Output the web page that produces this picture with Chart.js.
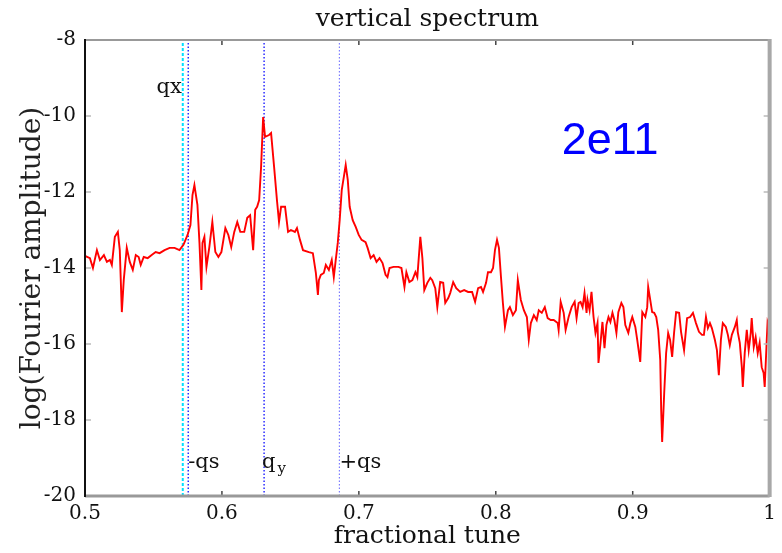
<!DOCTYPE html>
<html>
<head>
<meta charset="utf-8">
<script src="https://cdn.jsdelivr.net/npm/chart.js@4.4.1/dist/chart.umd.min.js"></script>
<style>
  html, body { margin: 0; padding: 0; background: #fff; }
</style>
</head>
<body>
<canvas id="spectrum" width="782" height="553"></canvas>
<script>
// fractional tune (x) and log of the Fourier amplitude (y)
const tune = [
  0.5000, 0.5036, 0.5058, 0.5087, 0.5109, 0.5138, 0.5160, 0.5182, 0.5196, 0.5218,
  0.5240, 0.5254, 0.5269, 0.5283, 0.5305, 0.5327, 0.5349, 0.5371, 0.5392, 0.5407,
  0.5429, 0.5458, 0.5487, 0.5516, 0.5545, 0.5581, 0.5618, 0.5654, 0.5690, 0.5719,
  0.5749, 0.5770, 0.5785, 0.5799, 0.5821, 0.5836, 0.5850,
  0.5858, 0.5872, 0.5887, 0.5908, 0.5930, 0.5952, 0.5974, 0.5996, 0.6025, 0.6047,
  0.6068, 0.6090, 0.6112, 0.6134, 0.6163, 0.6185, 0.6206, 0.6228, 0.6243, 0.6257,
  0.6272, 0.6286, 0.6301, 0.6315, 0.6344, 0.6359, 0.6381, 0.6403, 0.6417, 0.6432,
  0.6461, 0.6483, 0.6504, 0.6533, 0.6548, 0.6570, 0.6592, 0.6635, 0.6664, 0.6686,
  0.6701,
  0.6708, 0.6722, 0.6744, 0.6759, 0.6781, 0.6802, 0.6817, 0.6831, 0.6846, 0.6860,
  0.6875, 0.6890, 0.6904, 0.6919, 0.6933, 0.6955, 0.6977, 0.6999, 0.7020, 0.7049,
  0.7064, 0.7086, 0.7108, 0.7129, 0.7151, 0.7173, 0.7195, 0.7209, 0.7224, 0.7253,
  0.7289, 0.7311, 0.7333, 0.7347, 0.7369, 0.7391, 0.7413, 0.7427, 0.7449, 0.7464,
  0.7478, 0.7500, 0.7522,
  0.7536, 0.7558, 0.7573, 0.7594, 0.7616, 0.7631, 0.7653, 0.7667, 0.7689, 0.7711,
  0.7740, 0.7769, 0.7798, 0.7827, 0.7849, 0.7871, 0.7892, 0.7907, 0.7929, 0.7943,
  0.7965, 0.7980, 0.7994, 0.8009, 0.8023, 0.8038, 0.8052, 0.8067, 0.8089, 0.8103,
  0.8125, 0.8147, 0.8161, 0.8183, 0.8205, 0.8227, 0.8241, 0.8256, 0.8278, 0.8299,
  0.8314, 0.8336, 0.8358,
  0.8379, 0.8401, 0.8423, 0.8452, 0.8459, 0.8474, 0.8496, 0.8510, 0.8532, 0.8554,
  0.8576, 0.8590, 0.8605, 0.8619, 0.8634, 0.8648, 0.8663, 0.8670, 0.8685, 0.8699,
  0.8714, 0.8728, 0.8743, 0.8750, 0.8765, 0.8779, 0.8794, 0.8808, 0.8823, 0.8837,
  0.8852, 0.8866, 0.8881, 0.8895, 0.8917, 0.8932, 0.8946, 0.8968, 0.8983, 0.8997,
  0.9019, 0.9033, 0.9055, 0.9070, 0.9092, 0.9106, 0.9113, 0.9128, 0.9142, 0.9157,
  0.9172, 0.9186,
  0.9201, 0.9208, 0.9215, 0.9230, 0.9244, 0.9259, 0.9273, 0.9288, 0.9302, 0.9317,
  0.9339, 0.9353, 0.9375, 0.9397, 0.9419, 0.9440, 0.9462, 0.9484, 0.9506, 0.9520,
  0.9535, 0.9549, 0.9564, 0.9578, 0.9600, 0.9615, 0.9629, 0.9644, 0.9658, 0.9680,
  0.9695, 0.9709, 0.9724, 0.9746, 0.9760, 0.9767, 0.9782, 0.9797, 0.9804, 0.9818,
  0.9833, 0.9847, 0.9862, 0.9869, 0.9884, 0.9898, 0.9913, 0.9927, 0.9942, 0.9956,
  0.9964, 0.9978, 0.9985, 1.0000,
];
const logAmp = [
  -13.68, -13.74, -14.00, -13.53, -13.79, -13.66, -13.84, -13.79, -13.92, -13.18,
  -13.05, -13.53, -15.16, -14.32, -13.47, -13.84, -14.05, -13.66, -13.71, -13.92,
  -13.71, -13.74, -13.66, -13.58, -13.61, -13.53, -13.47, -13.47, -13.53, -13.39,
  -13.13, -12.87, -12.08, -11.82, -12.34, -13.34, -14.58,
  -13.34, -13.18, -13.97, -13.45, -12.79, -13.58, -13.71, -13.58, -12.95, -13.13,
  -13.45, -13.05, -12.79, -13.05, -13.05, -12.68, -12.61, -13.53, -12.47, -12.39,
  -12.21, -11.34, -10.03, -10.55, -10.50, -10.45, -11.34, -12.26, -12.79, -12.39,
  -12.39, -13.05, -13.00, -13.05, -12.95, -13.26, -13.53, -13.58, -13.61, -14.13,
  -14.71,
  -14.32, -14.18, -14.13, -13.92, -14.05, -13.79, -14.24, -13.79, -13.34, -12.74,
  -11.95, -11.61, -11.29, -11.68, -12.39, -12.74, -12.92, -13.13, -13.26, -13.32,
  -13.47, -13.74, -13.66, -13.84, -13.74, -13.87, -14.18, -14.24, -14.00, -13.97,
  -13.97, -14.00, -14.50, -14.11, -14.37, -14.32, -14.11, -14.24, -13.18, -13.74,
  -14.58, -14.39, -14.26,
  -14.32, -14.53, -15.03, -14.37, -14.39, -14.92, -14.79, -14.66, -14.37, -14.53,
  -14.63, -14.58, -14.63, -14.63, -14.89, -14.53, -14.50, -14.63, -14.39, -14.11,
  -14.11, -14.00, -13.53, -13.26, -13.47, -14.24, -14.92, -15.55, -15.11, -15.03,
  -15.24, -15.11, -14.32, -14.84, -15.11, -15.29, -15.89, -15.45, -15.24, -15.37,
  -15.11, -15.18, -15.03,
  -15.32, -15.37, -15.37, -15.45, -15.63, -14.89, -15.18, -15.63, -15.29, -15.03,
  -14.89, -15.32, -14.92, -14.89, -15.03, -14.66, -15.18, -14.84, -15.11, -14.63,
  -15.29, -15.71, -15.45, -16.50, -15.97, -15.42, -16.11, -15.50, -15.29, -15.42,
  -15.18, -15.37, -15.71, -15.16, -14.92, -15.03, -15.50, -15.71, -15.45, -15.29,
  -15.55, -15.89, -16.47, -15.16, -15.29, -15.03, -14.50, -14.84, -15.16, -15.18,
  -15.29, -15.63,
  -16.42, -17.74, -18.58, -17.29, -16.24, -15.71, -15.89, -16.34, -15.71, -15.16,
  -15.18, -15.68, -16.16, -15.32, -15.29, -15.18, -15.45, -15.68, -15.76, -15.76,
  -15.29, -15.58, -15.45, -15.58, -15.89, -16.16, -16.82, -15.89, -15.45, -15.55,
  -15.76, -16.03, -15.76, -15.55, -15.37, -15.68, -15.97, -16.61, -17.13, -16.24,
  -15.63, -16.16, -15.71, -15.32, -16.08, -15.82, -16.24, -15.97, -16.61, -16.76,
  -17.13, -15.97, -15.42, -15.58,
];

const xTicks = [0.5, 0.6, 0.7, 0.8, 0.9, 1.0];
const yTicks = [-20, -18, -16, -14, -12, -10, -8];

// tune lines: qx, -qs, qy, +qs
const markerTune = [0.5714, 0.5754, 0.6308, 0.6858];
const markerNames = ["qx", "-qs", "q", "+qs"];
const markerLabelValue = [-9.39, -19.26, -19.26, -19.26];

const serif = "'DejaVu Serif', serif";
const canvas = document.querySelector("#spectrum");

function markerDataset(t, color, dash, width) {
  return {
    data: [{ x: t, y: -20 }, { x: t, y: -8 }],
    borderColor: color,
    borderDash: dash,
    borderWidth: width,
    pointRadius: 0,
  };
}

const framePlugin = {
  id: "frame",
  afterDatasetsDraw(chart) {
    const { ctx, chartArea: a, scales } = chart;
    ctx.save();
    ctx.lineWidth = 1.5;
    ctx.strokeStyle = "#444";
    xTicks.forEach((v) => {
      const px = scales.x.getPixelForValue(v);
      ctx.beginPath();
      ctx.moveTo(px, a.bottom);
      ctx.lineTo(px, a.bottom - 5);
      ctx.moveTo(px, a.top);
      ctx.lineTo(px, a.top + 5);
      ctx.stroke();
    });
    ctx.strokeStyle = "#bbb";
    yTicks.forEach((v) => {
      const py = scales.y.getPixelForValue(v);
      ctx.beginPath();
      ctx.moveTo(a.left, py);
      ctx.lineTo(a.left + 6, py);
      ctx.moveTo(a.right, py);
      ctx.lineTo(a.right - 6, py);
      ctx.stroke();
    });
    // frame
    ctx.strokeStyle = "#999";
    ctx.lineWidth = 2;
    ctx.beginPath();
    ctx.moveTo(a.left, a.top);
    ctx.lineTo(a.right, a.top);
    ctx.stroke();
    ctx.lineWidth = 3;
    ctx.beginPath();
    ctx.moveTo(a.left, a.bottom);
    ctx.lineTo(a.right, a.bottom);
    ctx.stroke();
    ctx.strokeStyle = "#a8a8a8";
    ctx.lineWidth = 4;
    ctx.beginPath();
    ctx.moveTo(a.right, a.top - 1);
    ctx.lineTo(a.right, a.bottom + 1);
    ctx.stroke();
    ctx.strokeStyle = "#111";
    ctx.lineWidth = 2;
    ctx.beginPath();
    ctx.moveTo(a.left, a.top - 1);
    ctx.lineTo(a.left, a.bottom + 1);
    ctx.stroke();
    ctx.restore();
  },
  afterDraw(chart) {
    const { ctx, scales } = chart;
    ctx.save();
    ctx.fillStyle = "#111";
    ctx.font = "21px " + serif;
    ctx.textBaseline = "alphabetic";
    markerNames.forEach((name, i) => {
      const px = scales.x.getPixelForValue(markerTune[i]);
      const py = scales.y.getPixelForValue(markerLabelValue[i]);
      if (i === 0) {
        ctx.textAlign = "right";
        ctx.fillText(name, px - 1, py);
      } else {
        ctx.textAlign = "left";
        ctx.fillText(name, px - (i === 2 ? 2 : 0), py);
        if (i === 2) {
          const w = ctx.measureText(name).width;
          ctx.font = "15px " + serif;
          ctx.fillText("y", px - 2 + w + 2, py + 5);
          ctx.font = "21px " + serif;
        }
      }
    });
    // bunch intensity note
    ctx.fillStyle = "#0000ff";
    ctx.font = "45px 'Liberation Sans', Arial, sans-serif";
    ctx.textAlign = "center";
    ctx.textBaseline = "alphabetic";
    ctx.fillText("2e11", scales.x.getPixelForValue(0.8835), scales.y.getPixelForValue(-11.0));
    ctx.restore();
  },
};

const spectrumChart = new Chart(canvas, {
  type: "line",
  data: {
    datasets: [
      {
        data: tune.map((t, i) => ({ x: t, y: logAmp[i] })),
        borderColor: "#ff0000",
        borderWidth: 1.9,
        pointRadius: 0,
        tension: 0,
      },
      markerDataset(markerTune[0], "#00e0ff", [3, 2], 2),
      markerDataset(markerTune[1], "#2a2aff", [1.5, 2], 1.5),
      markerDataset(markerTune[2], "#2a2aff", [1.5, 2], 1.5),
      markerDataset(markerTune[3], "#7d7dff", [1.5, 2], 1.2),
    ],
  },
  options: {
    responsive: false,
    animation: false,
    layout: { padding: { left: 0, right: 9, top: 0, bottom: 0 } },
    plugins: {
      legend: { display: false },
      tooltip: { enabled: false },
      title: {
        display: true,
        fullSize: false,
        text: "vertical spectrum",
        color: "#111",
        font: { family: serif, size: 25, weight: "normal", lineHeight: 1.2 },
        padding: { top: 4, bottom: 6 },
      },
    },
    scales: {
      x: {
        type: "linear",
        min: 0.5,
        max: 1.0,
        afterBuildTicks: (s) => { s.ticks = xTicks.map((v) => ({ value: v })); },
        afterFit: (s) => { s.height = 57; },
        border: { display: false },
        grid: { display: false, drawTicks: false },
        ticks: {
          color: "#111",
          padding: 6,
          maxRotation: 0,
          font: { family: serif, size: 20 },
          callback: (v) => String(+v.toFixed(1)),
        },
        title: {
          display: true,
          text: "fractional tune",
          color: "#111",
          font: { family: serif, size: 25 },
          padding: { top: 0, bottom: 2 },
        },
      },
      y: {
        type: "linear",
        min: -20,
        max: -8,
        afterBuildTicks: (s) => { s.ticks = yTicks.map((v) => ({ value: v })); },
        afterFit: (s) => { s.width = 85; },
        border: { display: false },
        grid: { display: false, drawTicks: false },
        ticks: {
          color: "#111",
          padding: 9,
          font: { family: serif, size: 20 },
          callback: (v) => String(v),
        },
        title: {
          display: true,
          text: "log(Fourier amplitude)",
          color: "#222",
          font: { family: serif, size: 28 },
          padding: { top: 16, bottom: 0 },
        },
      },
    },
  },
  plugins: [framePlugin],
});
</script>
</body>
</html>
